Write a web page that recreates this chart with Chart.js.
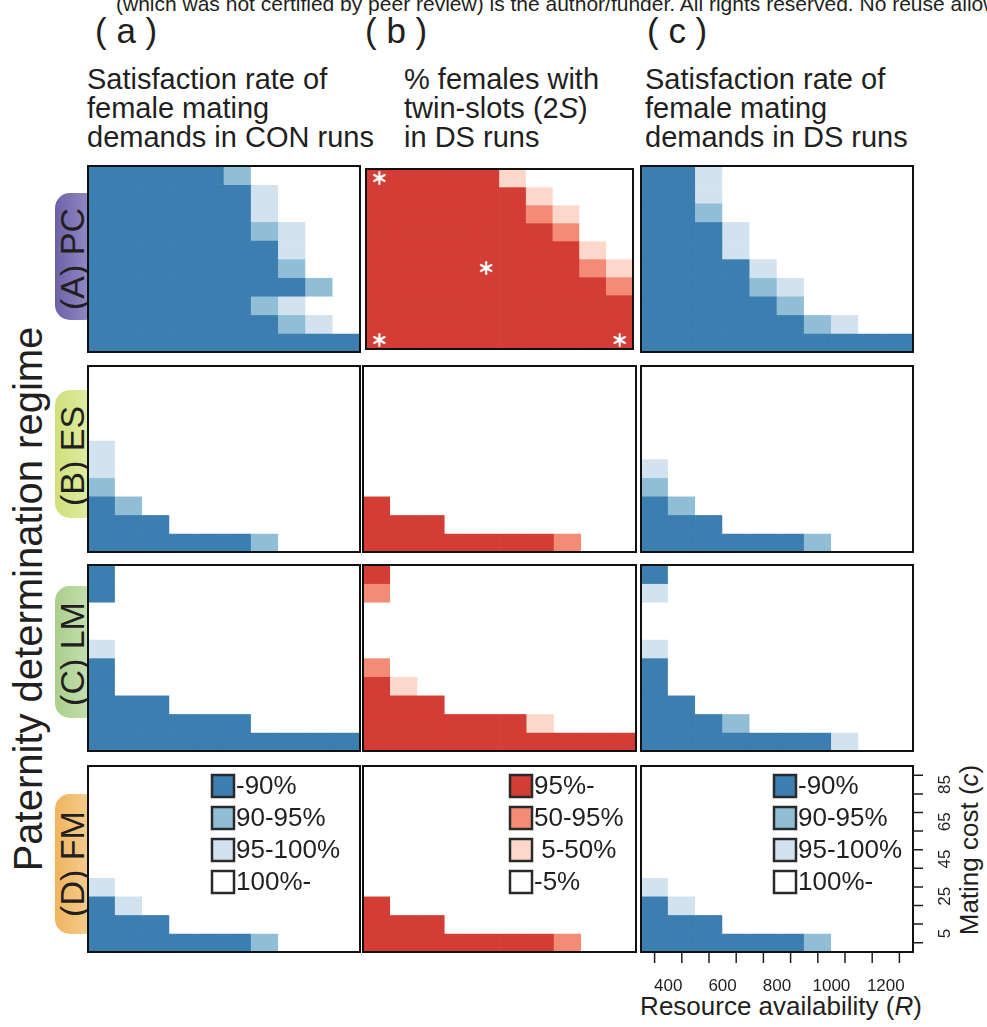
<!DOCTYPE html>
<html>
<head>
<meta charset="utf-8">
<script src="https://cdn.jsdelivr.net/npm/chart.js@4.4.0/dist/chart.umd.min.js"></script>
<style>
    body { margin: 0; background: #fff; }
    #page {
        position: relative;
        width: 987px;
        height: 1027px;
        overflow: hidden;
        font-family: "Liberation Sans", Arial, sans-serif;
        color: #231f20;
    }
    .t { position: absolute; white-space: pre; line-height: 1; }
    .mid { transform: translate(-50%, -50%); }
    .rot { transform: translate(-50%, -50%) rotate(-90deg); }
    .pill { position: absolute; border-radius: 15px; }
    canvas { position: absolute; }
</style>
</head>
<body>
<div id="page">

    <div class="t" style="left:116px; top:-7px; font-size:21px">(which was not certified by peer review) is the author/funder. All rights reserved. No reuse allowed without permission.</div>

    <div class="t" style="left:95px; top:13px; font-size:35px">( a )</div>
    <div class="t" style="left:365px; top:13px; font-size:35px">( b )</div>
    <div class="t" style="left:647px; top:13px; font-size:35px">( c )</div>

    <div class="t" style="left:87px; top:65px; font-size:29px; line-height:29px">Satisfaction rate of
female mating
demands in CON runs</div>
    <div class="t" style="left:404px; top:65px; font-size:29px; line-height:29px">% females with
twin-slots (2<i>S</i>)
in DS runs</div>
    <div class="t" style="left:645px; top:65px; font-size:29px; line-height:29px">Satisfaction rate of
female mating
demands in DS runs</div>

    <!-- etiquetas das linhas -->
    <div class="pill" style="left:55px; top:193px; width:45px; height:127px; background:linear-gradient(to right, #6c61a8, #9f96cc)"></div>
    <div class="pill" style="left:55px; top:390px; width:45px; height:128px; background:linear-gradient(to right, #cfe07a, #e6efb0)"></div>
    <div class="pill" style="left:55px; top:586px; width:45px; height:132px; background:linear-gradient(to right, #a9cf8c, #cfe4bc)"></div>
    <div class="pill" style="left:55px; top:794px; width:45px; height:140px; background:linear-gradient(to right, #efb45e, #f6d39e)"></div>

    <div class="t rot" style="left:72px; top:259px; font-size:34px">(A) PC</div>
    <div class="t rot" style="left:72px; top:456px; font-size:34px">(B) ES</div>
    <div class="t rot" style="left:72px; top:654px; font-size:34px">(C) LM</div>
    <div class="t rot" style="left:72px; top:864px; font-size:34px">(D) FM</div>

    <div class="t rot" style="left:28px; top:599px; font-size:40px">Paternity determination regime</div>
    <div class="t rot" style="left:969px; top:850px; font-size:26px">Mating cost (<i>c</i>)</div>
    <div class="t mid" style="left:781px; top:1006px; font-size:26px">Resource availability (<i>R</i>)</div>

</div>

<script>
// ========================
// DADOS
// ========================
const blueColors = ['#3d7eb1', '#91bed7', '#d2e2ef', '#ffffff'];
const redColors = ['#d43c36', '#f48b76', '#fdd8ca', '#ffffff'];

const satLabels = ['-90%', '90-95%', '95-100%', '100%-'];
const twinLabels = ['95%-', '50-95%', ' 5-50%', '-5%'];

// centros das células (R) e custo (c), linha de cima primeiro
const resourceLevels = [350, 450, 550, 650, 750, 850, 950, 1050, 1150, 1250];
const costLevels = [90, 80, 70, 60, 50, 40, 30, 20, 10, 0];

const resourceTicks = [400, 600, 800, 1000, 1200];
const costTicks = [5, 25, 45, 65, 85];

// classes por célula: 0 = escuro ... 3 = branco (linha de cima primeiro)
const conSatPC = [
    '0000013333',
    '0000002333',
    '0000002333',
    '0000001233',
    '0000000233',
    '0000000133',
    '0000000013',
    '0000001233',
    '0000000123',
    '0000000000'
];
const twinPC = [
    '0000023333',
    '0000002333',
    '0000001233',
    '0000000133',
    '0000000023',
    '0000000012',
    '0000000001',
    '0000000000',
    '0000000000',
    '0000000000'
];
const dsSatPC = [
    '0023333333',
    '0023333333',
    '0013333333',
    '0002333333',
    '0002333333',
    '0000233333',
    '0000123333',
    '0000013333',
    '0000001233',
    '0000000000'
];

const conSatES = [
    '3333333333',
    '3333333333',
    '3333333333',
    '3333333333',
    '2333333333',
    '2333333333',
    '1333333333',
    '0133333333',
    '0003333333',
    '0000001333'
];
const twinES = [
    '3333333333',
    '3333333333',
    '3333333333',
    '3333333333',
    '3333333333',
    '3333333333',
    '3333333333',
    '0333333333',
    '0003333333',
    '0000000133'
];
const dsSatES = [
    '3333333333',
    '3333333333',
    '3333333333',
    '3333333333',
    '3333333333',
    '2333333333',
    '1333333333',
    '0133333333',
    '0003333333',
    '0000001333'
];

const conSatLM = [
    '0333333333',
    '0333333333',
    '3333333333',
    '3333333333',
    '2333333333',
    '0333333333',
    '0333333333',
    '0003333333',
    '0000003333',
    '0000000000'
];
const twinLM = [
    '0333333333',
    '1333333333',
    '3333333333',
    '3333333333',
    '3333333333',
    '1333333333',
    '0233333333',
    '0003333333',
    '0000002333',
    '0000000000'
];
const dsSatLM = [
    '0333333333',
    '2333333333',
    '3333333333',
    '3333333333',
    '2333333333',
    '0333333333',
    '0333333333',
    '0033333333',
    '0001333333',
    '0000000233'
];

const conSatFM = [
    '3333333333',
    '3333333333',
    '3333333333',
    '3333333333',
    '3333333333',
    '3333333333',
    '2333333333',
    '0233333333',
    '0003333333',
    '0000001333'
];
const twinFM = [
    '3333333333',
    '3333333333',
    '3333333333',
    '3333333333',
    '3333333333',
    '3333333333',
    '3333333333',
    '0333333333',
    '0003333333',
    '0000000133'
];
const dsSatFM = [
    '3333333333',
    '3333333333',
    '3333333333',
    '3333333333',
    '3333333333',
    '3333333333',
    '2333333333',
    '0233333333',
    '0003333333',
    '0000001333'
];

// células marcadas com asterisco no painel (A)(b): [R, c]
const twinStarCells = [[350, 90], [750, 40], [350, 0], [1250, 0]];

// ========================
// LAYOUT
// ========================
const colLeft = [88, 363, 641];
const colRight = [360, 636, 913];
const rowTop = [166, 366, 565, 766];
const panelH = 186;

const grids = [
    [conSatPC, twinPC, dsSatPC],
    [conSatES, twinES, dsSatES],
    [conSatLM, twinLM, dsSatLM],
    [conSatFM, twinFM, dsSatFM]
];
const palettes = [blueColors, redColors, blueColors];
const legendSets = [satLabels, twinLabels, satLabels];
const legendLeft = [124, 147, 133];

Chart.defaults.font.family = '"Liberation Sans", Arial, sans-serif';
Chart.defaults.color = '#231f20';

const INK = '#231f20';

// ========================
// PLUGINS
// ========================
const panelFrame = {
    id: 'panelFrame',
    beforeDatasetsDraw(chart) {
        const { ctx, chartArea: a } = chart;
        ctx.save();
        ctx.fillStyle = '#fff';
        ctx.fillRect(a.left, a.top, a.width, a.height);
        ctx.restore();
    },
    afterDatasetsDraw(chart) {
        const { ctx, chartArea: a } = chart;
        ctx.save();
        ctx.strokeStyle = '#111';
        ctx.lineWidth = 2;
        ctx.strokeRect(a.left, a.top, a.width, a.height);
        ctx.restore();
    }
};

const classLegend = {
    id: 'classLegend',
    afterDraw(chart, args, opts) {
        if (!opts || !opts.labels) return;
        const { ctx, chartArea: a } = chart;
        ctx.save();
        ctx.font = '26px "Liberation Sans", Arial, sans-serif';
        ctx.textBaseline = 'middle';
        ctx.textAlign = 'left';
        opts.labels.forEach((label, i) => {
            const cy = a.top + 20 + i * 32;
            const bx = a.left + opts.left;
            ctx.fillStyle = opts.colors[i];
            ctx.fillRect(bx, cy - 11, 22, 22);
            ctx.strokeStyle = '#2a2a2a';
            ctx.lineWidth = 2.5;
            ctx.strokeRect(bx, cy - 11, 22, 22);
            ctx.fillStyle = INK;
            ctx.fillText(label, bx + 24, cy + 1);
        });
        ctx.restore();
    }
};

const cornerAxes = {
    id: 'cornerAxes',
    afterDraw(chart) {
        const { ctx, chartArea: a, scales: { x, y } } = chart;
        ctx.save();
        ctx.strokeStyle = INK;
        ctx.lineWidth = 1.5;
        ctx.beginPath();
        resourceLevels.forEach(v => {
            const px = x.getPixelForValue(v);
            ctx.moveTo(px, a.bottom);
            ctx.lineTo(px, a.bottom + 11);
        });
        costLevels.forEach(v => {
            const py = y.getPixelForValue(v);
            ctx.moveTo(a.right, py);
            ctx.lineTo(a.right + 10, py);
        });
        ctx.stroke();

        ctx.fillStyle = INK;
        ctx.font = '17px "Liberation Sans", Arial, sans-serif';
        ctx.textAlign = 'center';
        ctx.textBaseline = 'middle';
        resourceTicks.forEach(v => {
            ctx.fillText(String(v), x.getPixelForValue(v), a.bottom + 34);
        });
        costTicks.forEach(v => {
            ctx.save();
            ctx.translate(a.right + 32, y.getPixelForValue(v));
            ctx.rotate(-Math.PI / 2);
            ctx.fillText(String(v), 0, 0);
            ctx.restore();
        });
        ctx.restore();
    }
};

// asterisco branco usado como pointStyle
function asteriskMark() {
    const c = document.createElement('canvas');
    c.width = 16;
    c.height = 16;
    const g = c.getContext('2d');
    g.strokeStyle = '#fff';
    g.lineWidth = 2.2;
    g.lineCap = 'round';
    g.beginPath();
    for (let k = 0; k < 3; k++) {
        const ang = Math.PI / 2 + k * Math.PI / 3;
        g.moveTo(8 - 6 * Math.cos(ang), 8 - 6 * Math.sin(ang));
        g.lineTo(8 + 6 * Math.cos(ang), 8 + 6 * Math.sin(ang));
    }
    g.stroke();
    return c;
}

// ========================
// PAINÉIS
// ========================
function addPanel(r, c) {
    const grid = grids[r][c];
    const palette = palettes[c];
    const isCorner = r === 3 && c === 2;

    const pad = {
        left: 2,
        top: 2,
        right: isCorner ? 74 : 2,
        bottom: isCorner ? 75 : 2
    };

    const left = colLeft[c];
    const top = rowTop[r];
    const w = colRight[c] - left;

    const canvas = document.createElement('canvas');
    canvas.width = w + pad.left + pad.right;
    canvas.height = panelH + pad.top + pad.bottom;
    canvas.style.left = (left - pad.left) + 'px';
    canvas.style.top = (top - pad.top) + 'px';
    document.getElementById('page').appendChild(canvas);

    const datasets = grid.map((row, i) => {
        const cost = costLevels[i];
        return {
            type: 'bar',
            data: resourceLevels.map(res => ({ x: res, y: [cost - 5, cost + 5] })),
            backgroundColor: row.split('').map(k => palette[Number(k)]),
            borderWidth: 0,
            grouped: false,
            barPercentage: 1,
            categoryPercentage: 1
        };
    });

    if (r === 0 && c === 1) {
        datasets.push({
            type: 'scatter',
            data: twinStarCells.map(([res, cost]) => ({ x: res, y: cost })),
            pointStyle: asteriskMark(),
            order: -1
        });
    }

    const plugins = [panelFrame];
    if (r === 3) plugins.push(classLegend);
    if (isCorner) plugins.push(cornerAxes);

    new Chart(canvas, {
        type: 'bar',
        data: { datasets },
        options: {
            responsive: false,
            animation: false,
            events: [],
            layout: { padding: pad },
            plugins: {
                legend: { display: false },
                tooltip: { enabled: false },
                classLegend: r === 3 ? {
                    labels: legendSets[c],
                    colors: palette,
                    left: legendLeft[c]
                } : {}
            },
            scales: {
                x: {
                    type: 'linear',
                    min: 300,
                    max: 1300,
                    offset: false,
                    ticks: { stepSize: 100 },
                    display: false
                },
                y: {
                    type: 'linear',
                    min: -5,
                    max: 95,
                    display: false
                }
            }
        },
        plugins
    });
}

for (let r = 0; r < 4; r++) {
    for (let c = 0; c < 3; c++) {
        addPanel(r, c);
    }
}
</script>
</body>
</html>
